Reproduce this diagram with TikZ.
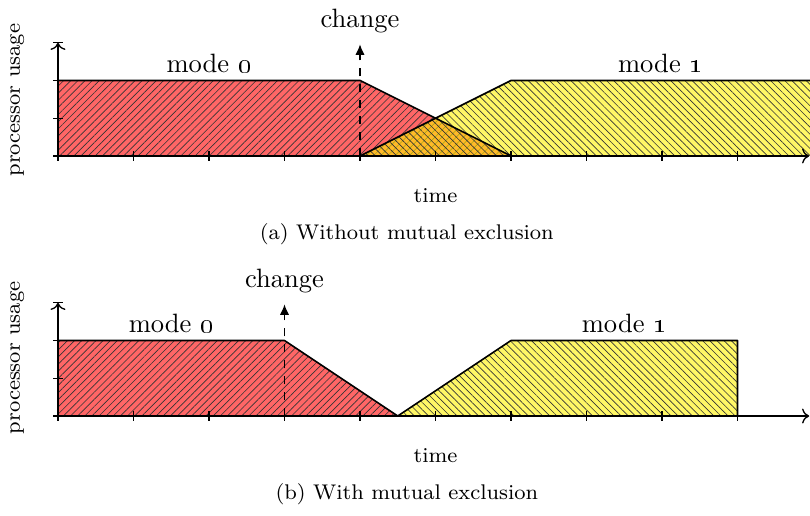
\documentclass[tikz,border=0pt]{standalone}
\usetikzlibrary{arrows.meta,patterns.meta}

\begin{document}
\begin{tikzpicture}[
  ax/.style={->,>=To,line width=0.5pt},
  tk/.style={line width=0.5pt},
  chg/.style={dashed,-{Latex[length=4pt,width=3.5pt]},line width=0.5pt},
  redfill/.style={fill=red,fill opacity=0.6},
  yelfill/.style={fill=yellow,fill opacity=0.6},
  redhatch/.style={pattern={Lines[angle=45,distance=1.9pt,line width=0.25pt]},pattern color=black!80},
  yelhatch/.style={pattern={Lines[angle=-45,distance=1.9pt,line width=0.25pt]},pattern color=black!80},
  edge/.style={line width=0.6pt,line join=round},
  lbl/.style={font=\normalsize,anchor=base},
  small/.style={font=\footnotesize}
]
  \useasboundingbox (-0.768,-4.755) rectangle (9.96,2.066);

  % (a) without mutual exclusion
  \fill[redfill] (0,0) -- (0,1) -- (4,1) -- (6,0) -- cycle;
  \fill[redhatch] (0,0) -- (0,1) -- (4,1) -- (6,0) -- cycle;
  \fill[yelfill] (4,0) -- (6,1) -- (9.96,1) -- (9.96,0) -- cycle;
  \fill[yelhatch] (4,0) -- (6,1) -- (9.96,1) -- (9.96,0) -- cycle;
  \draw[edge] (0,1) -- (4,1) -- (6,0);
  \draw[edge] (4,0) -- (6,1) -- (9.96,1);
  \coordinate (oa) at (0,0);
  \coordinate (xa) at (9.95,0);
  \coordinate (ya) at (0,1.5);
  \draw[ax] (oa) -- (xa);
  \draw[ax] (oa) -- (ya);
  \foreach \x in {0,...,9} \draw[tk] (\x,-0.06) -- (\x,0.06);
  \foreach \y in {0,0.5,1,1.5} \draw[tk] (-0.06,\y) -- (0.06,\y);
  \coordinate (ca) at (4,0);
  \coordinate (cta) at (4,1.48);
  \draw[chg] (ca) -- (cta);
  \node[lbl] (cha) at (4,1.70) {change};
  \node[lbl] (m0a) at (2,1.10) {mode \oldstylenums{0}};
  \node[lbl] (m1a) at (7.98,1.10) {mode \oldstylenums{1}};
  \node[small,anchor=base] (tia) at (5,-0.62) {time};
  \node[small,rotate=90] (pua) at (-0.54,0.74) {processor usage};
  \node[small,anchor=base] (capa) at (4.62,-1.1) {(a) Without mutual exclusion};

  % (b) with mutual exclusion
  \begin{scope}[yshift=-3.444cm]
    \fill[redfill] (0,0) -- (0,1) -- (3,1) -- (4.5,0) -- cycle;
    \fill[redhatch] (0,0) -- (0,1) -- (3,1) -- (4.5,0) -- cycle;
    \fill[yelfill] (4.5,0) -- (6,1) -- (9,1) -- (9,0) -- cycle;
    \fill[yelhatch] (4.5,0) -- (6,1) -- (9,1) -- (9,0) -- cycle;
    \draw[edge] (0,1) -- (3,1) -- (4.5,0) -- (6,1) -- (9,1) -- (9,0);
    \coordinate (ob) at (0,0);
    \coordinate (xb) at (9.95,0);
    \coordinate (yb) at (0,1.5);
    \draw[ax] (ob) -- (xb);
    \draw[ax] (ob) -- (yb);
    \foreach \x in {0,...,9} \draw[tk] (\x,-0.06) -- (\x,0.06);
    \foreach \y in {0,0.5,1,1.5} \draw[tk] (-0.06,\y) -- (0.06,\y);
    \coordinate (cb) at (3,0);
    \coordinate (ctb) at (3,1.48);
    \draw[chg] (cb) -- (ctb);
    \node[lbl] (chb) at (3,1.70) {change};
    \node[lbl] (m0b) at (1.5,1.10) {mode \oldstylenums{0}};
    \node[lbl] (m1b) at (7.5,1.10) {mode \oldstylenums{1}};
    \node[small,anchor=base] (tib) at (5,-0.62) {time};
    \node[small,rotate=90] (pub) at (-0.54,0.77) {processor usage};
    \node[small,anchor=base] (capb) at (4.62,-1.1) {(b) With mutual exclusion};
  \end{scope}
\end{tikzpicture}
\end{document}
